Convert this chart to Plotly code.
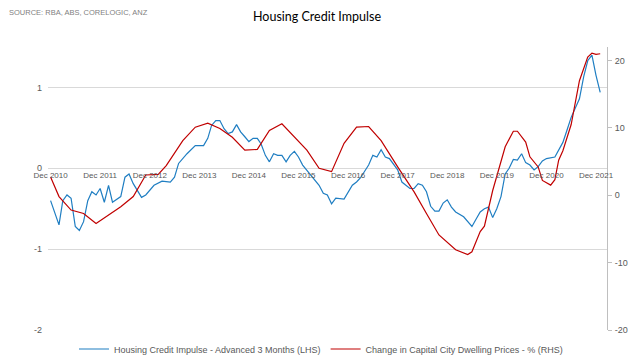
import plotly.graph_objects as go

# Month offsets from Dec 2010 (0 = Dec 2010)
blue_months = [0, 2, 3, 4, 5, 6, 7, 8, 9, 10, 11, 12, 13, 14, 15, 17, 18, 19, 20, 22, 23, 25, 27, 29, 30,
               31, 33, 35, 37, 38, 39, 40, 41, 42, 43, 44, 45, 46, 47, 48, 49, 50, 51, 52, 53, 54, 55, 56,
               57, 58, 59, 60, 61, 63, 65, 66, 67, 68, 69, 71, 72, 73, 74, 75, 77, 78, 79, 80, 81, 82,
               84, 85, 87, 88, 89, 90, 91, 92, 93, 94, 95, 96, 97, 98, 100, 101, 102, 103, 104, 105, 106,
               107, 108, 109, 110, 111, 112, 113, 114, 115, 116, 117, 118, 119, 120, 122, 123, 124, 125,
               126, 128, 129, 130, 131, 132, 133]
blue_vals = [-0.40, -0.70, -0.40, -0.33, -0.37, -0.72, -0.77, -0.66, -0.40, -0.29, -0.33, -0.25, -0.42,
             -0.21, -0.42, -0.35, -0.11, -0.07, -0.19, -0.36, -0.33, -0.21, -0.16, -0.17, -0.11,
             0.06, 0.18, 0.28, 0.28, 0.37, 0.53, 0.59, 0.59, 0.49, 0.43, 0.45, 0.54, 0.45, 0.39, 0.33,
             0.37, 0.37, 0.30, 0.16, 0.08, 0.18, 0.16, 0.16, 0.08, 0.16, 0.21, 0.14, 0.04, -0.09, -0.21,
             -0.31, -0.33, -0.44, -0.37, -0.38, -0.29, -0.21, -0.17, -0.12, 0.04, 0.16, 0.14, 0.23, 0.14,
             0.12, -0.02, -0.17, -0.25, -0.25, -0.19, -0.21, -0.29, -0.47, -0.53, -0.53, -0.43, -0.39,
             -0.48, -0.54, -0.60, -0.66, -0.72, -0.63, -0.54, -0.50, -0.48, -0.61, -0.50, -0.35, -0.07,
             0.0, 0.11, 0.10, 0.18, 0.07, 0.04, -0.02, 0.02, 0.09, 0.12, 0.14, 0.22, 0.32, 0.47, 0.63,
             0.86, 1.13, 1.33, 1.40, 1.15, 0.94]

red_months = [0, 2, 5, 8, 11, 14, 17, 20, 23, 26, 28, 32, 35, 38, 41, 44, 47, 50, 53, 56, 59, 62, 65, 68,
              71, 74, 77, 80, 84, 88, 91, 94, 98, 101, 102, 104, 105, 107, 110, 112, 113, 115, 116, 118,
              119, 121, 122, 123, 124, 125, 126, 128, 130, 131, 132, 133]
red_vals = [2.7, -0.2, -2.2, -2.7, -4.2, -3.0, -1.7, -0.2, 3.0, 3.1, 4.4, 8.1, 10.1, 10.7, 9.9, 8.6, 6.7,
            6.8, 9.6, 10.6, 8.6, 6.7, 4.0, 3.5, 7.7, 10.1, 10.2, 8.1, 4.2, 0.5, -2.7, -5.9, -8.1, -8.8,
            -8.4, -5.4, -4.6, 0.7, 7.2, 9.5, 9.5, 7.9, 5.7, 4.2, 2.2, 1.5, 2.3, 5.2, 6.6, 8.5, 10.5, 17.0,
            20.5, 21.1, 20.9, 21.0]

tick_years = list(range(2010, 2022))
tick_labels = [f"Dec {y}" for y in tick_years]
left_ticks = [-2, -1, 0, 1]
left_labels = ["-2", "-1", "0", "1"]
right_ticks = [-20, -10, 0, 10, 20]
right_labels = ["-20", "-10", "0", "10", "20"]


def to_date(m):
    y = 2010 + (11 + m) // 12
    mo = (11 + m) % 12 + 1
    return f"{y}-{mo:02d}-01"


blue_x = [to_date(m) for m in blue_months]
red_x = [to_date(m) for m in red_months]
tick_vals = [f"{y}-12-01" for y in tick_years]

BLUE = "#1f7ec2"
RED = "#c00000"
TXT = "#595959"
FONT = "Liberation Sans, Arial, sans-serif"

fig = go.Figure()
fig.add_trace(go.Scatter(x=blue_x, y=blue_vals, mode="lines",
                         name="Housing Credit Impulse - Advanced 3 Months (LHS)",
                         line=dict(color=BLUE, width=1.2)))
fig.add_trace(go.Scatter(x=red_x, y=red_vals, mode="lines", yaxis="y2",
                         name="Change in Capital City Dwelling Prices - % (RHS)",
                         line=dict(color=RED, width=1.2)))

fig.update_layout(
    width=640, height=360,
    margin=dict(l=48, r=33, t=47, b=30, autoexpand=False),
    paper_bgcolor="white", plot_bgcolor="white",
    font=dict(family=FONT, color=TXT, size=9),
    title=dict(text="Housing Credit Impulse", x=317 / 640, xanchor="center",
               xref="container", yref="container", y=1 - 17 / 360, yanchor="middle",
               font=dict(family="Lato, Open Sans, sans-serif", size=12.5, color="#000000")),
    xaxis=dict(type="date", range=["2010-11-12", "2022-02-20"],
               tickvals=tick_vals, ticktext=tick_labels,
               anchor="free", position=2 / 3.5, showgrid=False, showline=False, zeroline=False,
               ticks="", tickfont=dict(size=8, color=TXT), ticklabelstandoff=1),
    yaxis=dict(range=[-2, 1.5], tickvals=left_ticks, ticktext=left_labels, showgrid=True,
               gridcolor="#d9d9d9", gridwidth=1, zeroline=False, showline=False, ticks="",
               tickfont=dict(size=9, color=TXT), ticklabelstandoff=5),
    yaxis2=dict(range=[-20, 22], tickvals=right_ticks, ticktext=right_labels, overlaying="y",
                side="right", showgrid=False, zeroline=False, showline=True, linecolor="#bfbfbf",
                linewidth=1, ticks="outside", ticklen=4, tickcolor="#bfbfbf",
                tickfont=dict(size=9, color=TXT), ticklabelstandoff=1),
    legend=dict(orientation="h", xref="container", x=321 / 640, xanchor="center",
                yref="container", y=(360 - 349) / 360, yanchor="middle",
                font=dict(size=9, color=TXT), bgcolor="rgba(0,0,0,0)"),
    showlegend=True,
)

fig.add_annotation(text="SOURCE: RBA, ABS, CORELOGIC, ANZ", xref="paper", yref="paper",
                   x=-41 / 559, xanchor="left", y=1 + 35 / 283, yanchor="middle",
                   showarrow=False, font=dict(size=7.5, color="#7f7f7f", family=FONT))

fig.write_html("out.html", config={"displayModeBar": False},
               post_script="document.body.style.margin='0';document.body.style.overflow='hidden';")
